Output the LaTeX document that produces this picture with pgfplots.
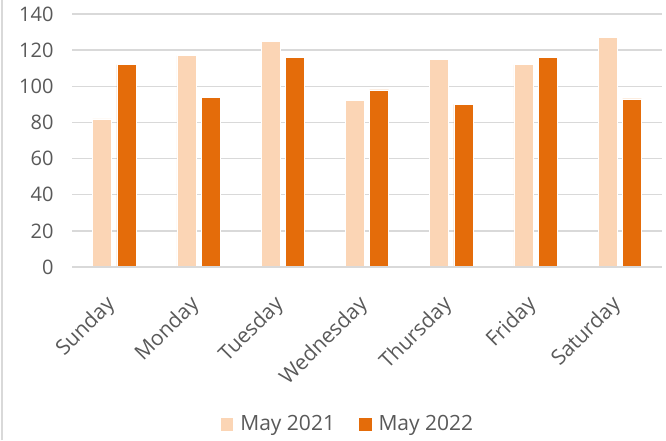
\documentclass[border=0pt]{standalone}
\usepackage{fontspec}
\setmainfont{Open Sans}
\usepackage{pgfplots}
\pgfplotsset{compat=1.18}
\definecolor{lightbar}{HTML}{FBD5B5}
\definecolor{darkbar}{HTML}{E46C0A}
\definecolor{gridc}{HTML}{D9D9D9}
\definecolor{textc}{HTML}{595959}
\begin{document}
\begin{tikzpicture}
\begin{axis}[
  scale only axis,
  width=590pt, height=253pt,
  xmin=-0.5, xmax=6.5,
  ymin=0, ymax=140,
  ytick={0,20,...,140},
  xtick={0,...,6},
  xticklabels={Sunday,Monday,Tuesday,Wednesday,Thursday,Friday,Saturday},
  axis line style={draw=none},
  major tick length=0pt,
  ymajorgrids,
  grid style={gridc, line width=1.5pt},
  /pgf/number format/assume math mode=true,
  font=\fontsize{20}{24}\selectfont,
  tick label style={text=textc},
  yticklabel style={anchor=east, xshift=-15pt},
  xticklabel style={rotate=45, anchor=north east, inner sep=0pt, xshift=-26pt, yshift=-12pt, font=\fontsize{21}{25}\selectfont},
  legend style={at={(0.467,-0.62)}, anchor=center, draw=none, fill=none,
    legend columns=2, font=\fontsize{21}{25}\selectfont, text=textc,
    /tikz/every even column/.append style={column sep=21pt},
    legend cell align=left},
  legend image code/.code={\fill[#1] (0pt,-7pt) rectangle (13.5pt,6.5pt); \path (18pt,0pt);},
  clip=false,
]
\addplot[ybar, bar width=0.225, bar shift=-0.144, fill=lightbar, draw=white, line width=0.5pt]
  coordinates {(0,82) (1,117) (2,125) (3,92) (4,115) (5,112) (6,127)};
\addlegendentry{May 2021}
\addplot[ybar, bar width=0.225, bar shift=0.144, fill=darkbar, draw=white, line width=0.5pt]
  coordinates {(0,112) (1,94) (2,116) (3,98) (4,90) (5,116) (6,93)};
\addlegendentry{May 2022}
\draw[gridc, line width=1.5pt] (rel axis cs:0,0) -- (rel axis cs:1,0);
\end{axis}
\draw[gridc, line width=2pt] (-70pt,-173pt) -- (-70pt,267pt);
\pgfresetboundingbox
\path[use as bounding box] (-72pt,-173pt) rectangle (594pt,267pt);
\end{tikzpicture}
\end{document}
